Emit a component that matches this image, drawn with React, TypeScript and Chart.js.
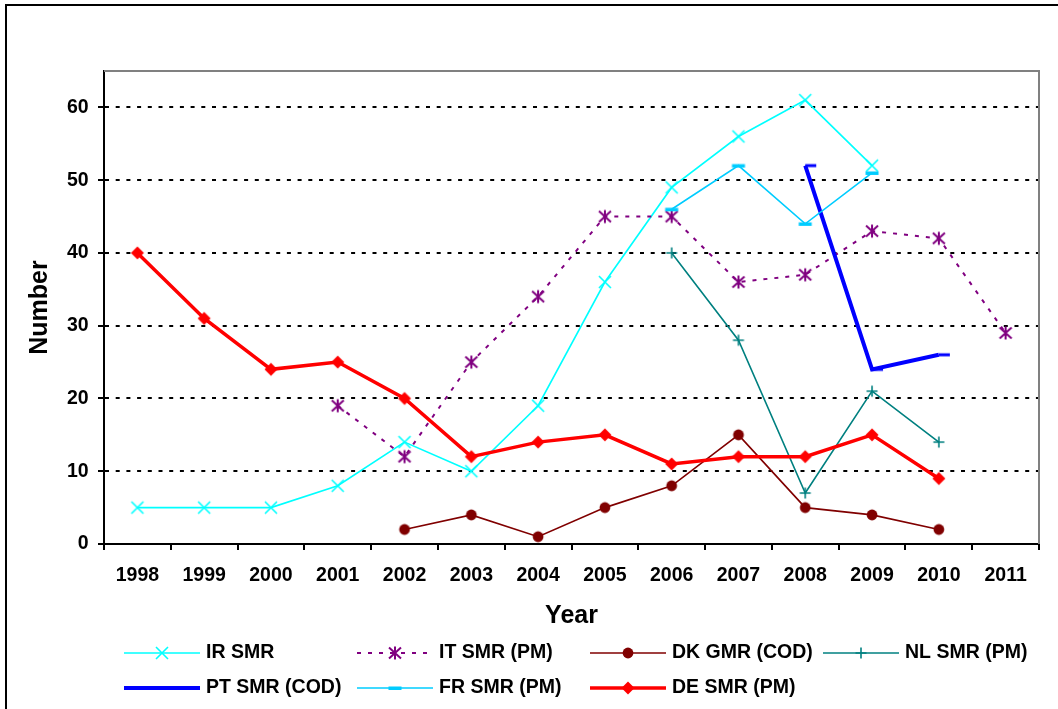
import React, { useEffect, useRef } from 'react';
import { Chart, registerables } from 'chart.js';

Chart.register(...registerables);

// ---------- data ----------
const years = ['1998', '1999', '2000', '2001', '2002', '2003', '2004', '2005', '2006', '2007', '2008', '2009', '2010', '2011'];
const irSmr = [5, 5, 5, 8, 14, 10, 19, 36, 49, 56, 61, 52, null, null];
const itSmr = [null, null, null, 19, 12, 25, 34, 45, 45, 36, 37, 43, 42, 29];
const dkGmr = [null, null, null, null, 2, 4, 1, 5, 8, 15, 5, 4, 2, null];
const nlSmr = [null, null, null, null, null, null, null, null, 40, 28, 7, 21, 14, null];
const ptSmr = [null, null, null, null, null, null, null, null, null, null, 52, 24, 26, null];
const frSmr = [null, null, null, null, null, null, null, null, 46, 52, 44, 51, null, null];
const deSmr = [40, 31, 24, 25, 20, 12, 14, 15, 11, 12, 12, 15, 9, null];
const seriesNames = ['IR SMR', 'IT SMR (PM)', 'DK GMR (COD)', 'NL SMR (PM)', 'PT SMR (COD)', 'FR SMR (PM)', 'DE SMR (PM)'];
const yTicks = [0, 10, 20, 30, 40, 50, 60];
const yMin = 0;
const yMax = 65;

const FONT = '"Liberation Sans", Arial, sans-serif';

type MarkerKind = 'x' | 'asterisk' | 'circle' | 'plus' | 'dashRight' | 'dash' | 'diamond';

function makeMarker(kind: MarkerKind, color: string): HTMLCanvasElement {
  const c = document.createElement('canvas');
  c.width = 28;
  c.height = 28;
  const g = c.getContext('2d')!;
  const m = 14;
  g.strokeStyle = color;
  g.fillStyle = color;
  g.lineCap = 'butt';
  switch (kind) {
    case 'x':
      g.lineWidth = 1.6;
      g.beginPath();
      g.moveTo(m - 6, m - 6); g.lineTo(m + 6, m + 6);
      g.moveTo(m + 6, m - 6); g.lineTo(m - 6, m + 6);
      g.stroke();
      break;
    case 'asterisk':
      g.lineWidth = 2;
      g.beginPath();
      g.moveTo(m - 6, m - 5.5); g.lineTo(m + 6, m + 5.5);
      g.moveTo(m + 6, m - 5.5); g.lineTo(m - 6, m + 5.5);
      g.moveTo(m, m - 6.5); g.lineTo(m, m + 6.5);
      g.stroke();
      break;
    case 'circle':
      g.beginPath();
      g.arc(m, m, 5.4, 0, Math.PI * 2);
      g.fill();
      break;
    case 'plus':
      g.lineWidth = 1.6;
      g.beginPath();
      g.moveTo(m - 5.5, m); g.lineTo(m + 5.5, m);
      g.moveTo(m, m - 5.5); g.lineTo(m, m + 5.5);
      g.stroke();
      break;
    case 'dashRight':
      g.fillRect(m, m - 1.5, 11, 3);
      break;
    case 'dash':
      g.fillRect(m - 6.5, m - 1.5, 13, 3.5);
      break;
    case 'diamond':
      g.beginPath();
      g.moveTo(m - 6.5, m); g.lineTo(m, m - 6.5); g.lineTo(m + 6.5, m); g.lineTo(m, m + 6.5);
      g.closePath();
      g.fill();
      break;
  }
  return c;
}

// legend layout (pixels)
const legendCols = [124, 357, 590, 823];
const legendRows = [653, 688];
const legendLineLen = 76;

const framePlugin = {
  id: 'frame',
  afterDraw(chart: any) {
    const { ctx, chartArea } = chart;
    ctx.save();
    ctx.strokeStyle = '#000';
    ctx.lineWidth = 2;
    ctx.beginPath();
    ctx.moveTo(6, 720);
    ctx.lineTo(6, 5);
    ctx.lineTo(1070, 5);
    ctx.stroke();
    ctx.strokeStyle = '#808080';
    ctx.beginPath();
    ctx.moveTo(chartArea.left, chartArea.top);
    ctx.lineTo(chartArea.right, chartArea.top);
    ctx.lineTo(chartArea.right, chartArea.bottom);
    ctx.stroke();
    ctx.restore();
  },
};

const legendPlugin = {
  id: 'customLegend',
  afterDraw(chart: any) {
    const ctx = chart.ctx;
    chart.data.datasets.forEach((ds: any, i: number) => {
      const col = i % 4;
      const row = Math.floor(i / 4);
      const x0 = legendCols[col];
      const y = legendRows[row];
      ctx.save();
      ctx.strokeStyle = ds.borderColor;
      ctx.lineWidth = ds.borderWidth;
      ctx.setLineDash(ds.borderDash || []);
      ctx.beginPath();
      ctx.moveTo(x0, y);
      ctx.lineTo(x0 + legendLineLen, y);
      ctx.stroke();
      ctx.setLineDash([]);
      const img = ds.legendMarker as HTMLCanvasElement;
      ctx.drawImage(img, x0 + legendLineLen / 2 - img.width / 2, y - img.height / 2);
      ctx.fillStyle = '#000';
      ctx.font = `bold 19.5px ${FONT}`;
      ctx.textBaseline = 'middle';
      ctx.textAlign = 'left';
      ctx.fillText(ds.label, x0 + legendLineLen + 6, y);
      ctx.restore();
    });
  },
};

export default function App() {
  const ref = useRef<HTMLCanvasElement | null>(null);

  useEffect(() => {
    document.body.style.margin = '0';
    const canvas = ref.current;
    if (!canvas) return;

    const specs: { data: (number | null)[]; color: string; width: number; dash?: number[]; marker: MarkerKind; legendMarker?: MarkerKind }[] = [
      { data: irSmr, color: '#00FFFF', width: 1.6, marker: 'x' },
      { data: itSmr, color: '#800080', width: 2, dash: [4, 7], marker: 'asterisk' },
      { data: dkGmr, color: '#800000', width: 1.6, marker: 'circle' },
      { data: nlSmr, color: '#008080', width: 1.6, marker: 'plus' },
      { data: ptSmr, color: '#0000FF', width: 4, marker: 'dashRight', legendMarker: 'dash' },
      { data: frSmr, color: '#00CCFF', width: 1.6, marker: 'dash' },
      { data: deSmr, color: '#FF0000', width: 3.5, marker: 'diamond' },
    ];
    const n = specs.length;
    const datasets = specs.map((s, i) => {
      const pm = makeMarker(s.marker, s.color);
      return {
        label: seriesNames[i],
        data: s.data,
        borderColor: s.color,
        backgroundColor: s.color,
        borderWidth: s.width,
        borderDash: s.dash || [],
        pointStyle: pm,
        pointRadius: 6,
        pointHoverRadius: 6,
        tension: 0,
        fill: false,
        spanGaps: false,
        order: n - 1 - i,
        legendMarker: s.legendMarker ? makeMarker(s.legendMarker, s.color) : pm,
      } as any;
    });

    const tickFont = { family: FONT, size: 19.5, weight: 'bold' as const };
    const titleFont = { family: FONT, size: 25, weight: 'bold' as const };

    const chart = new Chart(canvas, {
      type: 'line',
      data: { labels: years, datasets },
      options: {
        animation: false,
        responsive: false,
        maintainAspectRatio: false,
        events: [],
        layout: { padding: { left: 0, top: 71, right: 19, bottom: 0 } },
        plugins: {
          legend: { display: false },
          tooltip: { enabled: false },
          title: { display: false },
        },
        scales: {
          x: {
            type: 'category',
            offset: true,
            grid: {
              offset: true,
              drawOnChartArea: false,
              drawTicks: true,
              tickLength: 6,
              tickColor: '#000',
              tickWidth: 2,
              lineWidth: 2,
            },
            border: { display: true, color: '#000', width: 2 },
            ticks: {
              font: tickFont,
              color: '#000',
              padding: 14,
              maxRotation: 0,
              minRotation: 0,
              autoSkip: false,
            },
            title: {
              display: true,
              text: 'Year',
              font: titleFont,
              color: '#000',
              padding: { top: 0, bottom: 78 },
            },
            afterFit: (s: any) => {
              s.height = 165;
            },
          },
          y: {
            type: 'linear',
            min: yMin,
            max: yMax,
            afterBuildTicks: (s: any) => {
              s.ticks = yTicks.map((v) => ({ value: v }));
            },
            grid: {
              color: (c: any) => (c.tick && c.tick.value > 0 ? '#000' : 'rgba(0,0,0,0)'),
              lineWidth: 2,
              drawTicks: true,
              tickLength: 6,
              tickColor: '#000',
              tickWidth: 2,
              tickBorderDash: [],
            },
            border: { display: true, color: '#000', width: 2, dash: [4, 6.7] },
            ticks: {
              font: tickFont,
              color: '#000',
              padding: 9.4,
            },
            title: {
              display: true,
              text: 'Number',
              font: titleFont,
              color: '#000',
              padding: { top: 25.5, bottom: 0 },
            },
            afterFit: (s: any) => {
              s.width = 104;
            },
          },
        },
      },
      plugins: [framePlugin, legendPlugin],
    });

    return () => {
      chart.destroy();
    };
  }, []);

  return (
    <div style={{ width: 1058, height: 709, position: 'relative', background: '#fff' }}>
      <canvas ref={ref} width={1058} height={709} style={{ display: 'block', width: 1058, height: 709 }} />
    </div>
  );
}
